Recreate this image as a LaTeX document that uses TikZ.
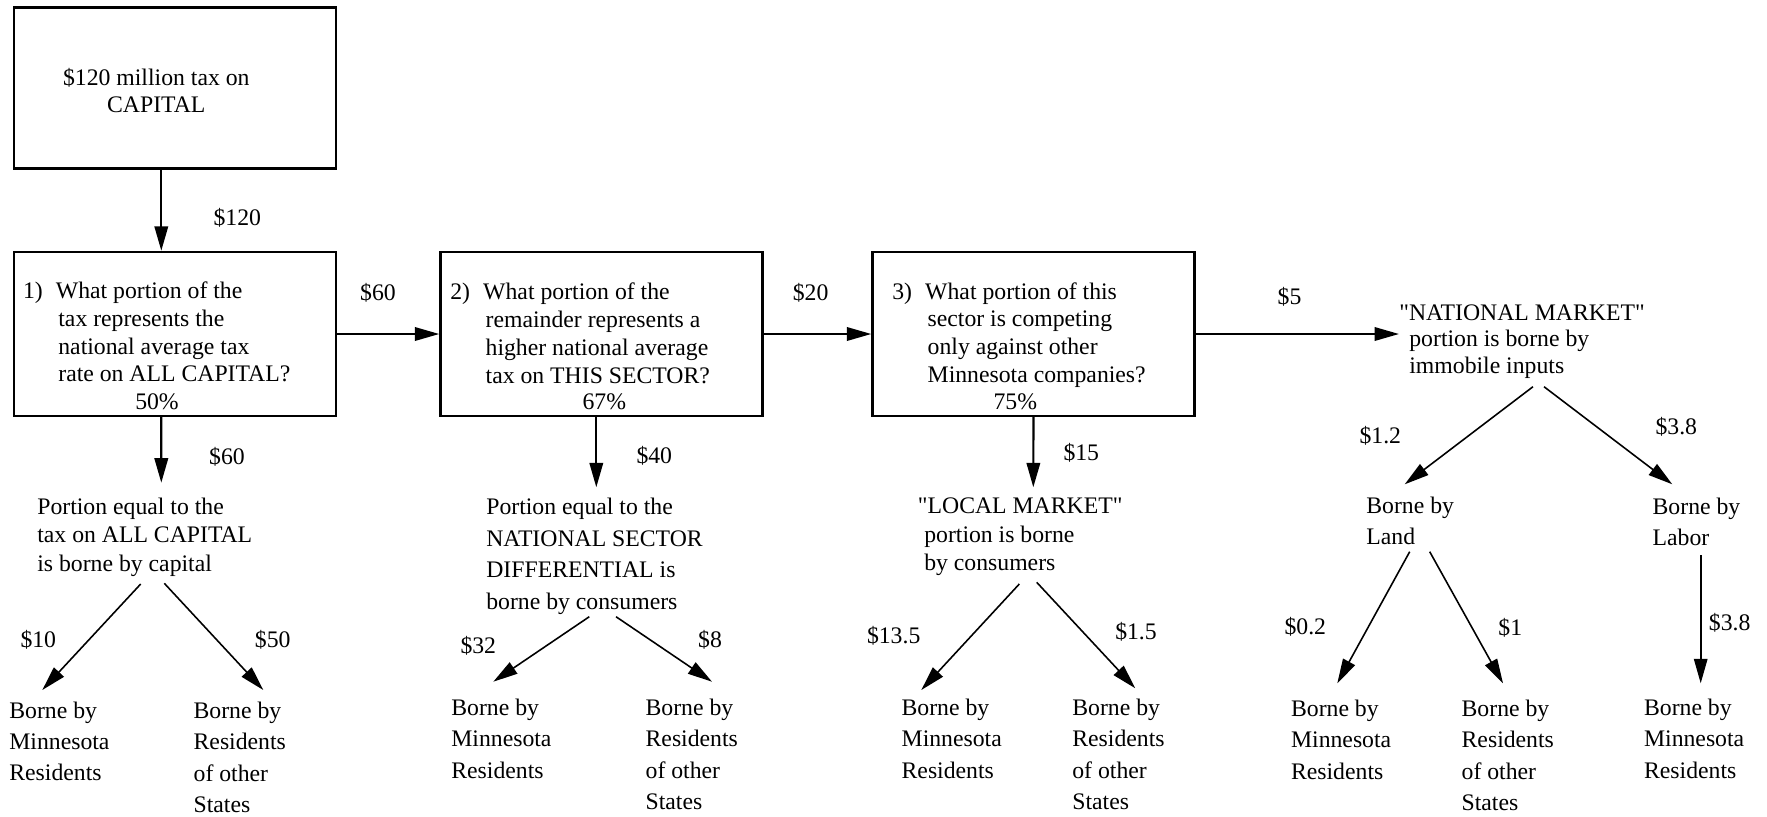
\documentclass[tikz,border=0pt]{standalone}
\usepackage{fontspec}
\setmainfont{Liberation Serif}[Ligatures=TeXOff]
\usetikzlibrary{arrows.meta}

\newcommand{\qnum}[1]{\makebox[18.7pt][l]{#1}}
\newcommand{\qind}{\hspace*{20.1pt}}

\tikzset{
  qbox/.style={draw, line width=1.4pt, inner sep=0pt, minimum width=64.4mm, minimum height=32.8mm},
  txt/.style={inner sep=0pt, anchor=north west, align=left, font=\fontsize{13.5pt}{#1}\selectfont},
  txt/.default=15.8pt,
  lbl/.style={inner sep=0pt, font=\fontsize{13.5pt}{16pt}\selectfont},
  arr/.style={line width=1.2pt, -{Triangle[length=4.9mm, width=2.7mm]}},
  split/.style={arr, line width=0.9pt}
}

\begin{document}
\begin{tikzpicture}[x=0.2mm, y=-0.2mm]
\useasboundingbox (0,0) rectangle (1767,816);

% boxes
\node[qbox, minimum height=32.2mm] (tb) at (175,87.8) {};
\node[qbox] (q1) at (175,334) {};
\node[qbox] (q2) at (601.5,334) {};
\node[qbox] (q3) at (1033.5,334) {};

\node[txt=15.9pt, anchor=north, align=center] (tbt) at (156.3,67.5) {\$120 million tax on\\CAPITAL};
\node[txt] (q1t) at (22.7,281.5) {\qnum{1)}What portion of the\\\qind tax represents the\\\qind national average tax\\\qind rate on ALL CAPITAL?};
\node[txt] (q2t) at (450,282.8) {\qnum{2)}What portion of the\\\qind remainder represents a\\\qind higher national average\\\qind tax on THIS SECTOR?};
\node[txt] (q3t) at (892,282) {\qnum{3)}What portion of this\\\qind sector is competing\\\qind only against other\\\qind Minnesota companies?};
\node[lbl] (q1p) at (157,402) {50\%};
\node[lbl] (q2p) at (604.3,402) {67\%};
\node[lbl] (q3p) at (1015.3,402) {75\%};

% second row texts
\node[txt=16.2pt] (p1) at (37,497.5) {Portion equal to the\\tax on ALL CAPITAL\\is borne by capital};
\node[txt=18.1pt] (p2) at (486,497.5) {Portion equal to the\\NATIONAL SECTOR\\DIFFERENTIAL is\\borne by consumers};
\node[txt=16.2pt] (p3) at (917.6,497.5) {"LOCAL MARKET"\\\hspace*{3.6pt}portion is borne\\\hspace*{3.6pt}by consumers};
\node[txt=15.1pt] (nm) at (1399,304.2) {"NATIONAL MARKET"\\\hspace*{5.7pt}portion is borne by\\\hspace*{5.7pt}immobile inputs};
\node[txt=17.6pt] (ld) at (1366,496.5) {Borne by\\Land};
\node[txt=17.6pt] (lb) at (1652.3,498) {Borne by\\Labor};

% bottom row
\node[txt=17.7pt] (m1) at (9,701.5) {Borne by\\Minnesota\\Residents};
\node[txt=17.7pt] (o1) at (193.3,702) {Borne by\\Residents\\of other\\States};
\node[txt=17.7pt] (m2) at (451,699) {Borne by\\Minnesota\\Residents};
\node[txt=17.7pt] (o2) at (645.3,699) {Borne by\\Residents\\of other\\States};
\node[txt=17.7pt] (m3) at (901.3,699) {Borne by\\Minnesota\\Residents};
\node[txt=17.7pt] (o3) at (1072,699) {Borne by\\Residents\\of other\\States};
\node[txt=17.7pt] (m4) at (1290.7,700) {Borne by\\Minnesota\\Residents};
\node[txt=17.7pt] (o4) at (1461.3,700) {Borne by\\Residents\\of other\\States};
\node[txt=17.7pt] (m5) at (1643.7,699) {Borne by\\Minnesota\\Residents};

% amounts
\node[lbl] (l120) at (237.3,218.3) {\$120};
\node[lbl] (l60a) at (378,293) {\$60};
\node[lbl] (l20) at (810.6,293.3) {\$20};
\node[lbl] (l5) at (1289.5,296.7) {\$5};
\node[lbl] (l60b) at (227,456.7) {\$60};
\node[lbl] (l40) at (654.3,456) {\$40};
\node[lbl] (l15) at (1081.3,452.7) {\$15};
\node[lbl] (l10) at (38.3,640) {\$10};
\node[lbl] (l50) at (272.7,640) {\$50};
\node[lbl] (l32) at (478.3,646) {\$32};
\node[lbl] (l8) at (710,640) {\$8};
\node[lbl] (l135) at (893.7,636) {\$13.5};
\node[lbl] (l15b) at (1136,631.7) {\$1.5};
\node[lbl] (l12) at (1380.3,436) {\$1.2};
\node[lbl] (l38a) at (1676.3,427.3) {\$3.8};
\node[lbl] (l02) at (1305.3,626.7) {\$0.2};
\node[lbl] (l1) at (1510.3,628.3) {\$1};
\node[lbl] (l38b) at (1729.7,623.3) {\$3.8};

% connectors
\draw[arr] ([shift={(-13.7,0)}]tb.south) -- ([shift={(-13.7,0)}]q1.north);
\draw[arr] (q1) -- (q2);
\draw[arr] (q2) -- (q3);
\draw[arr] (q3) -- (q3 -| nm.west);
\draw[arr] ([shift={(-13.7,0)}]q1.south) -- ([shift={(124.3,-14.8)}]p1.north west);
\draw[arr] ([shift={(-5.2,0)}]q2.south) -- ([shift={(110.3,-10.2)}]p2.north west);
\draw[arr] (q3.south) -- ([shift={(115.7,-10.2)}]p3.north west);

\draw[split] ([shift={(103.7,86.5)}]p1.north west) -- ([shift={(33.3,-11.5)}]m1.north west);
\draw[split] ([shift={(127.3,85.8)}]p1.north west) -- ([shift={(70,-12)}]o1.north west);
\draw[split] ([shift={(103.3,119.2)}]p2.north west) -- ([shift={(42.3,-17.3)}]m2.north west);
\draw[split] ([shift={(130,119.2)}]p2.north west) -- ([shift={(66.7,-17.3)}]o2.north west);
\draw[split] ([shift={(101.7,86.5)}]p3.north west) -- ([shift={(20,-9)}]m3.north west);
\draw[split] ([shift={(119.1,84.8)}]p3.north west) -- ([shift={(63.3,-10.7)}]o3.north west);
\draw[split] ([shift={(134,82.5)}]nm.north west) -- ([shift={(38.7,-12.2)}]ld.north west);
\draw[split] ([shift={(145,82.5)}]nm.north west) -- ([shift={(20,-13.7)}]lb.north west);
\draw[split] ([shift={(43.7,55.2)}]ld.north west) -- ([shift={(46.6,-16.7)}]m4.north west);
\draw[split] ([shift={(63.7,55.2)}]ld.north west) -- ([shift={(41.7,-16.7)}]o4.north west);
\draw[split] ([shift={(48.4,57)}]lb.north west) -- ([shift={(57,-15.7)}]m5.north west);
\end{tikzpicture}
\end{document}
